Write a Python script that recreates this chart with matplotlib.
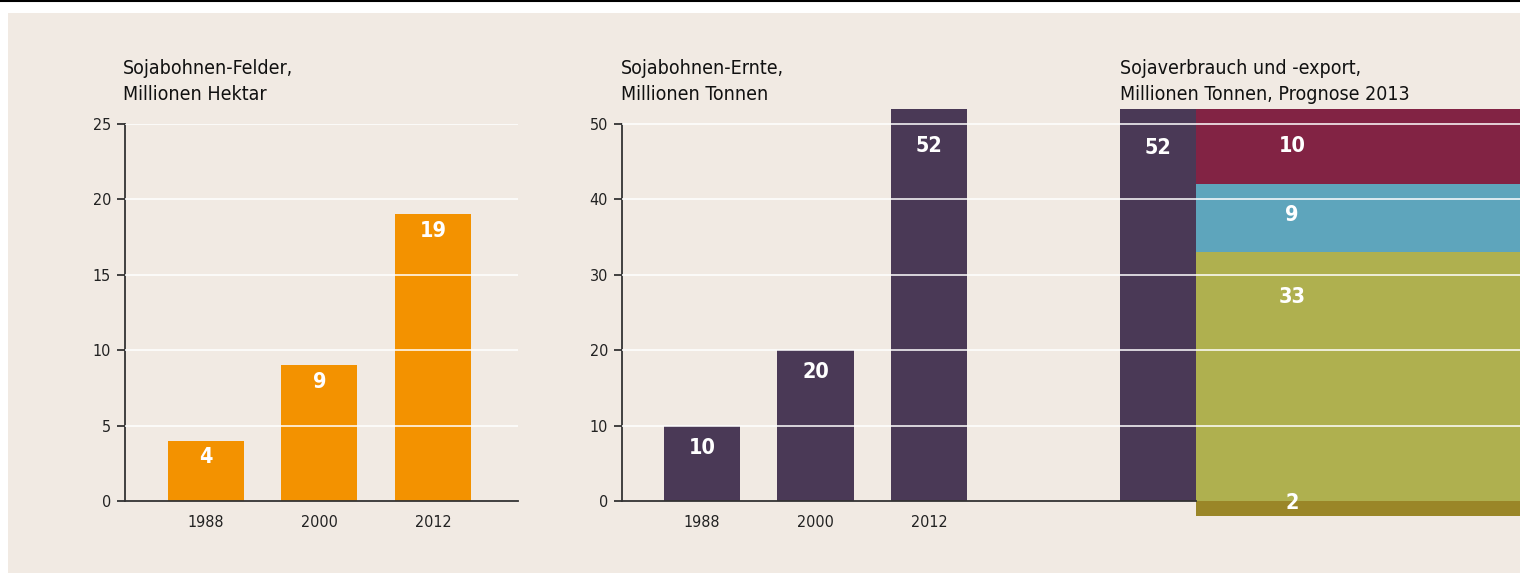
import numpy as np
import matplotlib
matplotlib.use('Agg')
import matplotlib.pyplot as plt
from matplotlib.patches import Rectangle
from matplotlib.lines import Line2D

# Daten
years = ['1988', '2000', '2012']
felder = [4, 9, 19]          # Millionen Hektar
ernte = [10, 20, 52]         # Millionen Tonnen
verbrauch_gesamt = 52
verbrauch_teile = [33, 9, 10]   # von unten nach oben
verbrauch_rest = 2              # unter der Nulllinie

# Farben
beige = '#F1EAE3'
orange = '#F39200'
lila = '#4A3956'
teile_farben = ['#AFB04F', '#5EA5BC', '#822344']
gold = '#9A8628'
achse = '#333333'

plt.rcParams['font.family'] = ['DejaVu Sans']
plt.rcParams['font.stretch'] = 'condensed'

W, H = 1520, 573
fig = plt.figure(figsize=(W / 100, H / 100), dpi=100, facecolor='white')

# Hintergrund und Linie oben
fig.patches.append(Rectangle((8 / W, 0), 1 - 8 / W, 1 - 13 / H, transform=fig.transFigure,
                             facecolor=beige, edgecolor='none', zorder=-5))
fig.lines.append(Line2D([0, 1], [1 - 1 / H, 1 - 1 / H], transform=fig.transFigure,
                        color='black', lw=1.5, zorder=-5))


def px(x, y):
    # Pixel -> Figurkoordinaten
    return x / W, 1 - y / H


def style_axis(ax, top):
    ax.set_facecolor('none')
    for s in ['top', 'right']:
        ax.spines[s].set_visible(False)
    ax.spines['left'].set_color(achse)
    ax.spines['bottom'].set_color(achse)
    ax.spines['left'].set_linewidth(1.3)
    ax.spines['bottom'].set_linewidth(1.3)
    ax.spines['left'].set_bounds(0, top)
    ax.tick_params(axis='y', length=6, width=1.3, color=achse, labelsize=11.5, pad=4, labelcolor='#222222')
    ax.tick_params(axis='x', length=0, labelsize=11.5, pad=10, labelcolor='#222222')


# --- Diagramm 1: Felder ---
ax1 = fig.add_axes([125 / W, 1 - 501 / H, 393 / W, 377 / H])
x = np.arange(len(years))
ax1.bar(x, felder, width=0.67, color=orange, zorder=2)
ax1.set_xlim(-0.714, 2.75)
ax1.set_ylim(0, 25)
ax1.set_yticks([0, 5, 10, 15, 20, 25])
ax1.set_xticks(x)
ax1.set_xticklabels(years)
style_axis(ax1, 25)
for t in [5, 10, 15, 20, 25]:
    ax1.axhline(t, color='white', lw=1.1, zorder=3)
for i, v in enumerate(felder):
    ax1.annotate(str(v), (i, v), xytext=(0, -12), textcoords='offset points',
                 ha='center', va='center', color='white', fontsize=15.5, fontweight='bold', zorder=4)

# --- Diagramm 2 und 3: Ernte, Verbrauch ---
ax2 = fig.add_axes([622 / W, 1 - (501 + 5 * 7.54) / H, 898 / W, 60 * 7.54 / H])
ax2.bar(x, ernte, width=0.67, color=lila, zorder=2)
ax2.bar(4.02, verbrauch_gesamt, width=0.67, color=lila, zorder=2)
unten = 0
for v, c in zip(verbrauch_teile, teile_farben):
    ax2.bar(4.355, v, bottom=unten, width=5, align='edge', color=c, zorder=2)
    unten += v
ax2.bar(4.355, -verbrauch_rest, width=5, align='edge', color=gold, zorder=2)
ax2.set_xlim(-0.705, 7.207)
ax2.set_ylim(-5, 55)
ax2.set_yticks([0, 10, 20, 30, 40, 50])
ax2.set_xticks(x)
ax2.set_xticklabels(years)
style_axis(ax2, 50)
ax2.spines['bottom'].set_bounds(-0.705, 4.355)
ax2.spines['bottom'].set_position(('data', 0))
for t in [10, 20, 30, 40, 50]:
    ax2.axhline(t, color='white', lw=1.1, zorder=3)

lbl = dict(ha='center', va='center', color='white', fontsize=15.5, fontweight='bold', zorder=4,
           textcoords='offset points')
for i, v in enumerate(ernte):
    ax2.annotate(str(v), (i, min(v, 50)), xytext=(0, -16), **lbl)
ax2.annotate(str(verbrauch_gesamt), (4.02, 50), xytext=(0, -17.5), **lbl)
unten = 0
abstand = [-32, -22, -27]
for v, d in zip(verbrauch_teile, abstand):
    ax2.annotate(str(v), (5.2, unten + v), xytext=(0, d), **lbl)
    unten += v
ax2.annotate(str(verbrauch_rest), (5.2, 0), xytext=(0, -1.5), **lbl)

# Titel
titel = [(123, 'Sojabohnen-Felder,\nMillionen Hektar'),
         (621, 'Sojabohnen-Ernte,\nMillionen Tonnen'),
         (1120, 'Sojaverbrauch und -export,\nMillionen Tonnen, Prognose 2013')]
for xp, t in titel:
    fx, fy = px(xp, 59)
    fig.text(fx, fy, t, ha='left', va='top', fontsize=14, color='#111111', linespacing=1.45)

fig.savefig('out.png', dpi=100, facecolor='white')
